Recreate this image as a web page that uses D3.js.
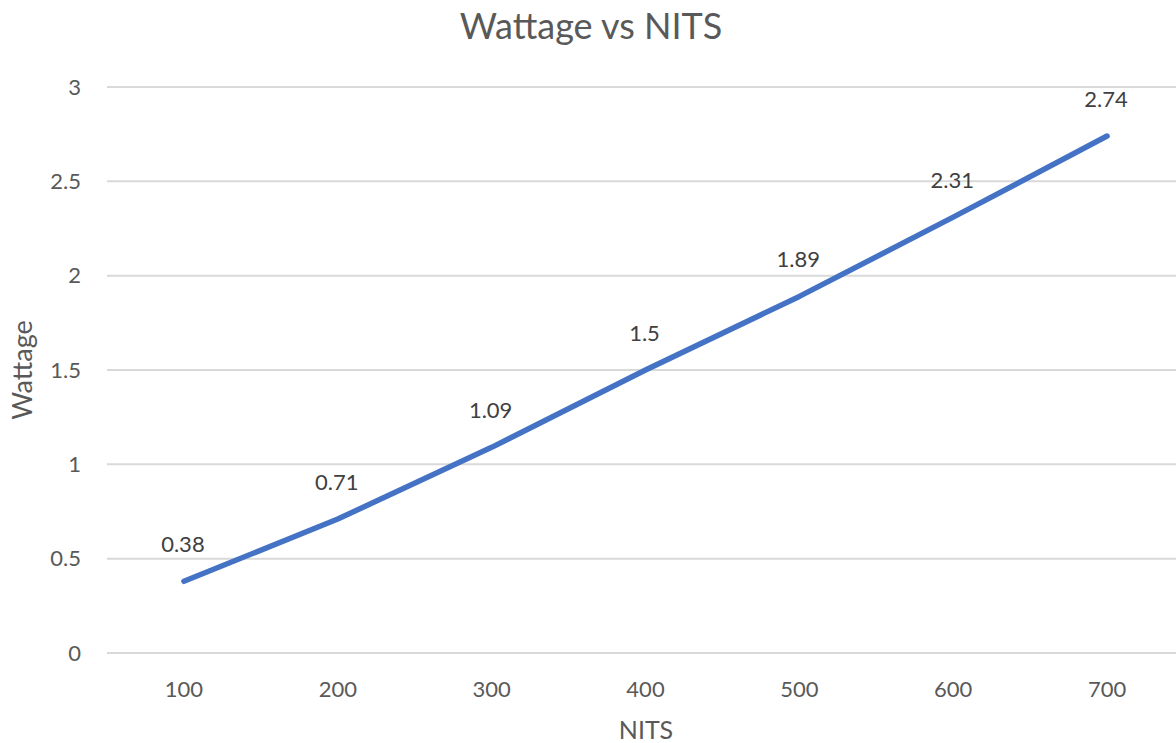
<!DOCTYPE html>
<meta charset="utf-8">
<head>
	<script type="text/javascript" src="https://cdn.jsdelivr.net/npm/d3@7"></script>
	<style>
		body { margin: 0; background: #fff; }
		text { font-family: Lato, "Open Sans", sans-serif; }
	</style>
</head>
<body>
	<svg id="chart" width="1176" height="743"></svg>
</body>
<script type="text/javascript">
	// chart data
	var nits = ["100", "200", "300", "400", "500", "600", "700"];
	var wattage = [0.38, 0.71, 1.09, 1.5, 1.89, 2.31, 2.74];
	var yTicks = [0, 0.5, 1, 1.5, 2, 2.5, 3];

	var svg = d3.select('#chart');
	// note: "top" is taken by window.top, so keep plot edges in one object
	var plot = {left: 107, right: 1184, top: 87, bottom: 653};

	var x = d3.scaleBand().domain(nits).range([plot.left, plot.right]);
	var y = d3.scaleLinear().domain([0, 3]).range([plot.bottom, plot.top]);

	// gridlines
	svg.append('g').selectAll('line')
		.data(yTicks).enter().append('line')
		.attr('x1', plot.left).attr('x2', plot.right)
		.attr('y1', function(d){ return y(d); })
		.attr('y2', function(d){ return y(d); })
		.attr('stroke', '#d9d9d9').attr('stroke-width', 2);

	// y tick labels
	svg.append('g').selectAll('text')
		.data(yTicks).enter().append('text')
		.attr('x', 81).attr('y', function(d){ return y(d); })
		.attr('dy', '0.35em')
		.attr('text-anchor', 'end')
		.attr('font-size', 22).attr('fill', '#595959')
		.text(function(d){ return d; });

	// x tick labels
	svg.append('g').selectAll('text')
		.data(nits).enter().append('text')
		.attr('x', function(d){ return x(d) + x.bandwidth() / 2; })
		.attr('y', 697)
		.attr('text-anchor', 'middle')
		.attr('font-size', 22).attr('fill', '#595959')
		.text(function(d){ return d; });

	//the line
	var line = d3.line()
		.x(function(d, i){ return x(nits[i]) + x.bandwidth() / 2; })
		.y(function(d){ return y(d); });

	svg.append('path')
		.attr('d', line(wattage))
		.attr('fill', 'none')
		.attr('stroke', '#4472c4')
		.attr('stroke-width', 5.5)
		.attr('stroke-linecap', 'round')
		.attr('stroke-linejoin', 'round');

	// data labels
	svg.append('g').selectAll('text')
		.data(wattage).enter().append('text')
		.attr('x', function(d, i){ return x(nits[i]) + x.bandwidth() / 2 - 1; })
		.attr('y', function(d){ return y(d) - 29; })
		.attr('text-anchor', 'middle')
		.attr('font-size', 22).attr('fill', '#404040')
		.text(function(d){ return d; });

	// titles
	svg.append('text')
		.attr('x', 591).attr('y', 39)
		.attr('text-anchor', 'middle')
		.attr('font-size', 36).attr('fill', '#595959')
		.text('Wattage vs NITS');

	svg.append('text')
		.attr('x', 646).attr('y', 739)
		.attr('text-anchor', 'middle')
		.attr('font-size', 25).attr('fill', '#595959')
		.text('NITS');

	svg.append('text')
		.attr('transform', 'translate(32,370) rotate(-90)')
		.attr('text-anchor', 'middle')
		.attr('font-size', 27).attr('fill', '#595959')
		.text('Wattage');
</script>
